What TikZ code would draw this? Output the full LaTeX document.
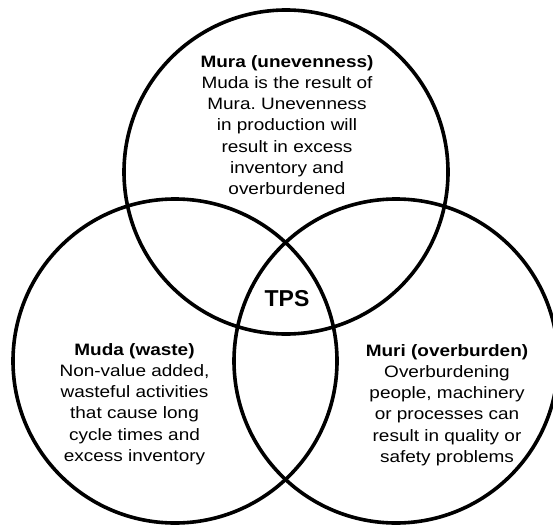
\documentclass[tikz,border=0pt]{standalone}
\usepackage{fontspec}
\setmainfont{Liberation Sans}[FakeStretch=1.15]
\newfontfamily\tpsfont{Liberation Sans}
\begin{document}
\begin{tikzpicture}[x=1pt,y=-1pt,
    venn/.style={draw,circle,line width=3.6pt,minimum size=324pt,inner sep=0pt},
    blurb/.style={align=center,inner sep=0pt,font=\fontsize{16.5}{21.2}\selectfont}]
  \useasboundingbox (0,0) rectangle (553,524);
  \draw
    (286,172) node[venn] (mura){}
    (175,361) node[venn] (muda){}
    (396,361) node[venn] (muri){};
  \begin{scope}[blurb]
    \node (muratext) at (287,125) {\textbf{Mura (unevenness)}\\Muda is the result of\\Mura.\ Unevenness\\in production will\\result in excess\\inventory and\\overburdened};
    \node (mudatext) at (134.5,404) {\textbf{Muda (waste)}\\Non-value added,\\wasteful activities\\that cause long\\cycle times and\\excess inventory};
    \node (muritext) at (447,405) {\textbf{Muri (overburden)}\\Overburdening\\people, machinery\\or processes can\\result in quality or\\safety problems};
  \end{scope}
  \node[font=\tpsfont\fontsize{23}{27}\selectfont\bfseries] (tps) at (287,299) {TPS};
\end{tikzpicture}
\end{document}
